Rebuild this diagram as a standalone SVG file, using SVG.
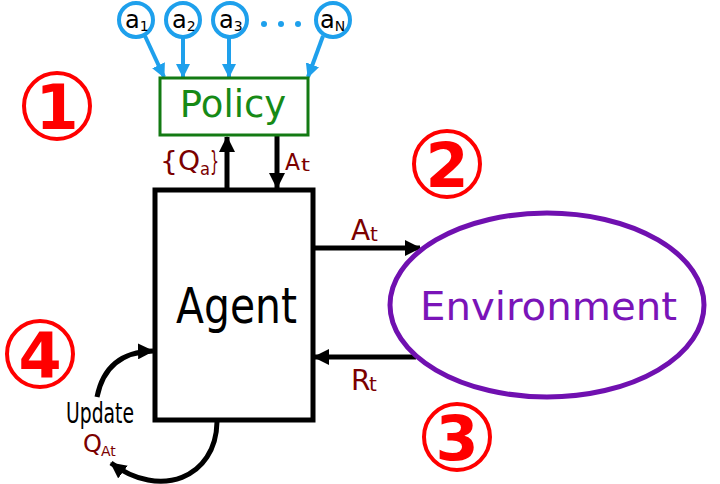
<svg xmlns="http://www.w3.org/2000/svg" width="720" height="484" viewBox="0 0 720 484">
<style>
.lbl{font-family:"DejaVu Sans",sans-serif;fill:#7b0000}
.num circle{fill:none;stroke:#ff0000;stroke-width:4}
.num text{font-family:"DejaVu Sans",sans-serif;font-weight:bold;font-size:62px;fill:#ff0000;text-anchor:middle}
.act circle{fill:#fff;stroke:#1ea0ec;stroke-width:4}
.act text{font-family:"DejaVu Sans",sans-serif;font-size:24px;fill:#000}
.bl{stroke:#000;stroke-width:5;fill:none}
.bu{stroke:#1ea0ec;stroke-width:4;fill:none}
</style>
<defs>
<marker id="ah" markerUnits="userSpaceOnUse" markerWidth="18" markerHeight="16" refX="15" refY="8" orient="auto"><path d="M0,0 L16,8 L0,16 Z" fill="#000"/></marker>
<marker id="ab" markerUnits="userSpaceOnUse" markerWidth="16" markerHeight="14" refX="13" refY="7" orient="auto"><path d="M0,0 L14,7 L0,14 Z" fill="#1ea0ec"/></marker>
</defs>
<rect width="720" height="484" fill="#fff"/>

<g id="connectors">
<line class="bu" x1="145" y1="36" x2="164" y2="77" marker-end="url(#ab)"/>
<line class="bu" x1="183" y1="38" x2="183" y2="77" marker-end="url(#ab)"/>
<line class="bu" x1="229" y1="38" x2="229" y2="77" marker-end="url(#ab)"/>
<line class="bu" x1="323" y1="36" x2="308" y2="77" marker-end="url(#ab)"/>
<line class="bl" x1="227" y1="190" x2="227" y2="137" marker-end="url(#ah)"/>
<line class="bl" x1="277" y1="135" x2="277" y2="188" marker-end="url(#ah)"/>
<line class="bl" x1="313" y1="248" x2="420" y2="248" marker-end="url(#ah)"/>
<line class="bl" x1="416" y1="357" x2="314" y2="357" marker-end="url(#ah)"/>
<path class="bl" d="M97,397 Q106,352 153,351" stroke-width="4" marker-end="url(#ah)"/>
<path class="bl" d="M217,422 C216,478 160,500 111,463" stroke-width="4" marker-end="url(#ah)"/>
</g>

<g id="labels">
<text class="lbl" x="160" y="170" font-size="27" textLength="40" lengthAdjust="spacingAndGlyphs">{Q</text>
<text class="lbl" x="200" y="175" font-size="18" textLength="10" lengthAdjust="spacingAndGlyphs">a</text>
<text class="lbl" x="210" y="170" font-size="27" textLength="9" lengthAdjust="spacingAndGlyphs">}</text>
<text class="lbl" x="285" y="170" font-size="23" textLength="15" lengthAdjust="spacingAndGlyphs">A</text>
<text class="lbl" x="301" y="171" font-size="17" textLength="9" lengthAdjust="spacingAndGlyphs">t</text>
<text class="lbl" x="351" y="240" font-size="28">A<tspan x="370" y="241" font-size="20">t</tspan></text>
<text class="lbl" x="351" y="390" font-size="28">R<tspan x="369" y="391" font-size="20">t</tspan></text>
<text x="66" y="423" font-family="DejaVu Sans,sans-serif" font-size="29" textLength="68" lengthAdjust="spacingAndGlyphs">Update</text>
<text class="lbl" x="83" y="452" font-size="24">Q<tspan x="101" y="456" font-size="14">At</tspan></text>
</g>

<g id="a1" class="act"><circle cx="136" cy="20" r="17"/><text x="125" y="28">a<tspan font-size="14" dy="3">1</tspan></text></g>
<g id="a2" class="act"><circle cx="183" cy="20" r="17"/><text x="172" y="28">a<tspan font-size="14" dy="3">2</tspan></text></g>
<g id="a3" class="act"><circle cx="230" cy="20" r="17"/><text x="219" y="28">a<tspan font-size="14" dy="3">3</tspan></text></g>
<g id="dots" fill="#1ea0ec"><circle cx="264" cy="24" r="3"/><circle cx="281" cy="24" r="3"/><circle cx="298" cy="24" r="3"/></g>
<g id="aN" class="act"><circle cx="333" cy="20" r="17"/><text x="320" y="28">a<tspan font-size="14" dy="3">N</tspan></text></g>

<g id="policy"><rect x="160" y="78" width="148" height="57" fill="#fff" stroke="#137a13" stroke-width="3"/><text x="233" y="117" font-family="DejaVu Sans,sans-serif" font-size="37" fill="#168a16" text-anchor="middle">Policy</text></g>

<g id="agent"><rect x="155" y="190" width="158" height="230" fill="#fff" stroke="#000" stroke-width="5"/><text x="176" y="323" font-family="DejaVu Sans,sans-serif" font-size="49" textLength="121" lengthAdjust="spacingAndGlyphs">Agent</text></g>

<g id="environment"><ellipse cx="547" cy="305" rx="157" ry="92" fill="#fff" stroke="#7010b0" stroke-width="5"/><text x="420" y="320" font-family="DejaVu Sans,sans-serif" font-size="39" fill="#7a14b8" textLength="257" lengthAdjust="spacingAndGlyphs">Environment</text></g>

<g id="n1" class="num"><circle cx="57" cy="106" r="33"/><text x="57" y="129">1</text></g>
<g id="n2" class="num"><circle cx="447" cy="164" r="33"/><text x="447" y="187">2</text></g>
<g id="n3" class="num"><circle cx="457" cy="437" r="33"/><text x="457" y="460">3</text></g>
<g id="n4" class="num"><circle cx="40" cy="354" r="33"/><text x="40" y="377">4</text></g>
</svg>
